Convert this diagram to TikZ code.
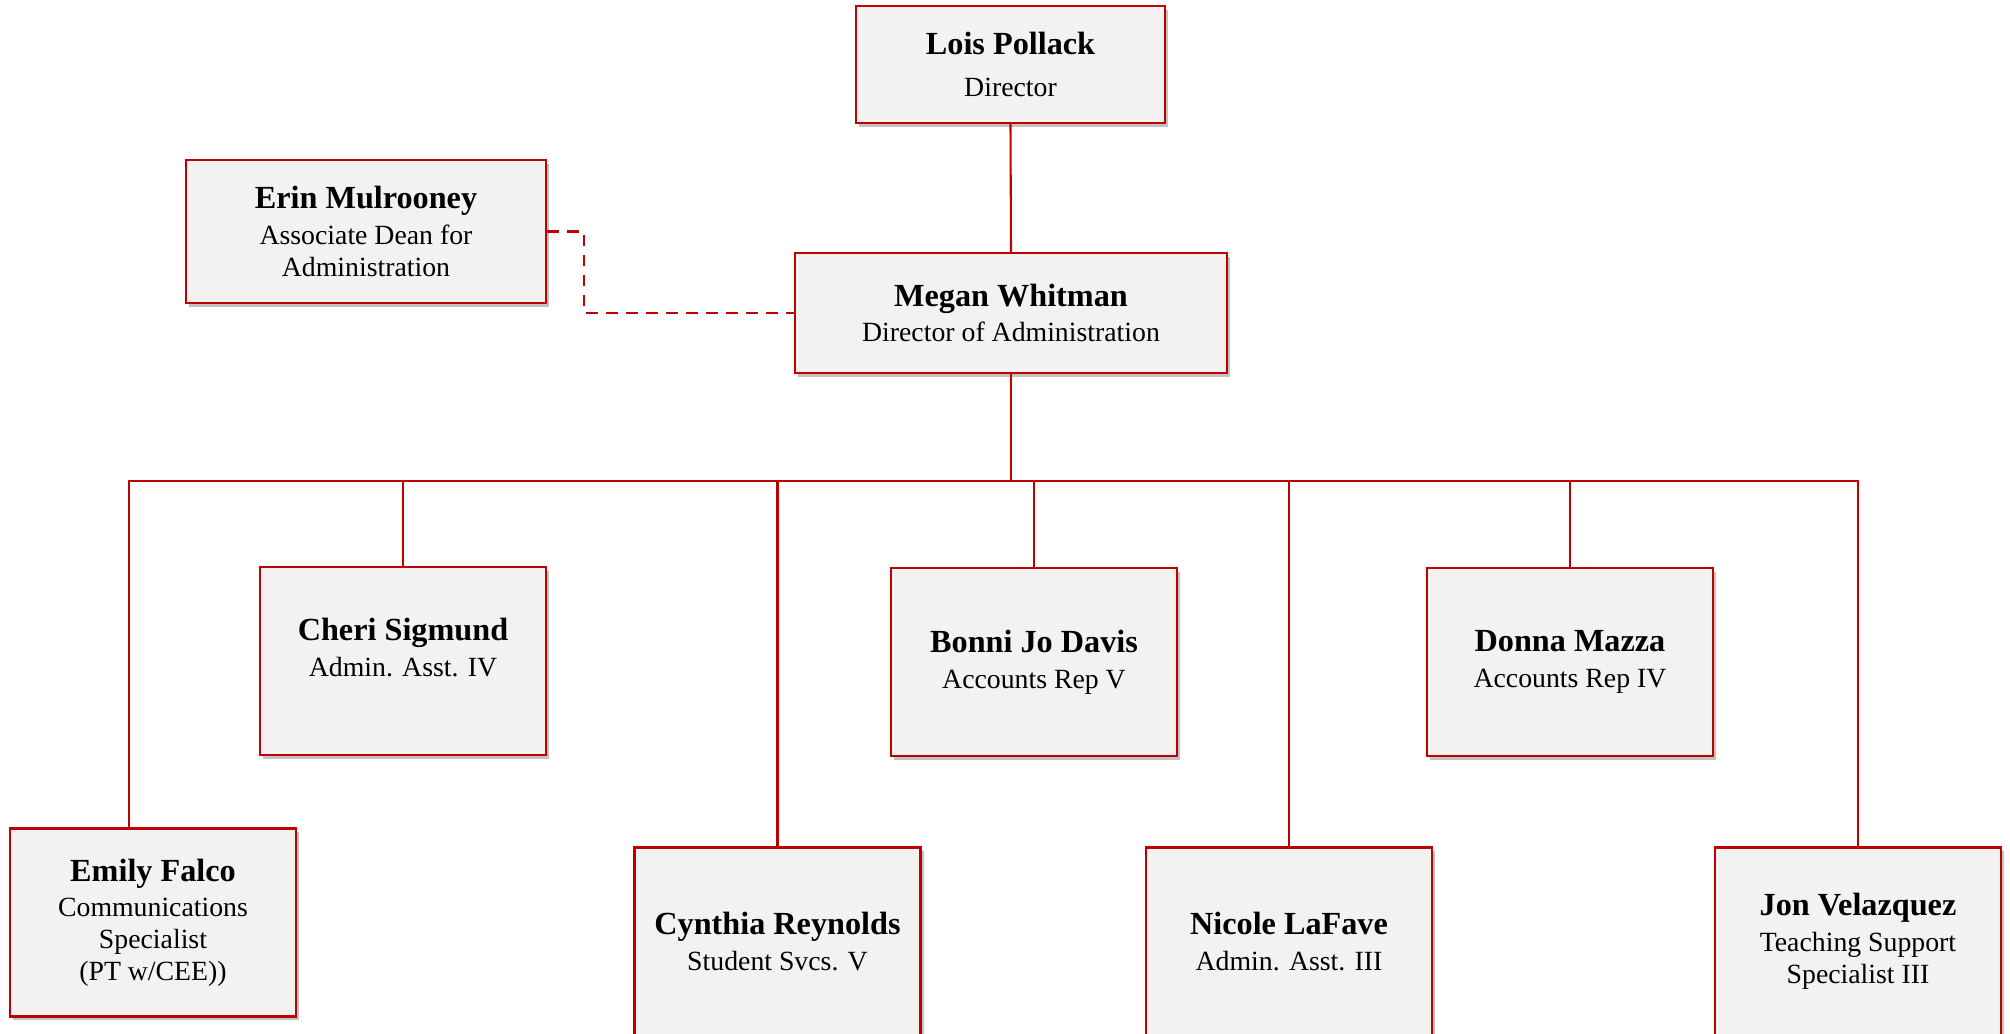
\documentclass[tikz,border=0pt]{standalone}
\usepackage{fontspec}
\setmainfont{Liberation Serif}
\usetikzlibrary{shadows,calc}
\definecolor{boxred}{HTML}{C00000}
\definecolor{boxgray}{HTML}{F2F2F2}
\tikzset{
  orgbox/.style={draw=boxred, fill=boxgray, line width=0.9pt, align=center,
    inner sep=0pt, font=\fontsize{10}{11.4}\selectfont,
    drop shadow={shadow xshift=1.1pt, shadow yshift=-1.3pt, fill=black!40, opacity=0.6}},
  conn/.style={draw=boxred, line width=0.75pt},
  dashconn/.style={draw=boxred, line width=0.75pt, dash pattern=on 4.3pt off 2.9pt},
}
\newcommand{\pname}[1]{{\fontsize{11.6}{12.5}\selectfont\bfseries #1}\\[1.5pt]}
\begin{document}
\begin{tikzpicture}[x=0.36pt,y=-0.36pt]
\useasboundingbox (0,0) rectangle (2010,1034);
\clip (0,0) rectangle (2010,1034);
% boxes
\node[orgbox, minimum width=111.2pt, minimum height=42.1pt] (lois) at (1010.5,64.5)
  {\pname{Lois Pollack}\\[-9pt]Director};
\node[orgbox, minimum width=129.6pt, minimum height=51.5pt] (erin) at (366,231.5)
  {\pname{Erin Mulrooney}Associate Dean for\\Administration};
\node[orgbox, minimum width=155.5pt, minimum height=43.2pt] (megan) at (1011,313)
  {\pname{Megan Whitman}Director of Administration};
\node[orgbox, minimum width=103pt, minimum height=67.7pt] (cheri) at (403,661)
  {\pname{Cheri Sigmund}Admin. Asst. IV\\[-1.5pt]\mbox{}};
\node[orgbox, minimum width=103pt, minimum height=67.7pt] (bonni) at (1034,662)
  {\pname{Bonni Jo Davis}Accounts Rep V};
\node[orgbox, minimum width=103pt, minimum height=67.7pt] (donna) at (1570,662)
  {\pname{Donna Mazza}Accounts Rep IV};
\node[orgbox, minimum width=103pt, minimum height=67.7pt] (emily) at (153,922.5)
  {\pname{Emily Falco}Communications\\Specialist\\(PT w/CEE))};
\node[orgbox, minimum width=103pt, minimum height=67.7pt] (cynthia) at (777.5,941.5)
  {\pname{Cynthia Reynolds}Student Svcs. V};
\node[orgbox, minimum width=103pt, minimum height=67.7pt] (nicole) at (1289,941.5)
  {\pname{Nicole LaFave}Admin. Asst. III};
\node[orgbox, minimum width=103pt, minimum height=67.7pt] (jon) at (1858,941.5)
  {\pname{Jon Velazquez}Teaching Support\\Specialist III};
% connectors
\coordinate (bus) at (1011,481);
\coordinate (emtop) at ([xshift=-8.6pt]emily.north);
\draw[conn] (lois.south) -- (megan.north);
\draw[dashconn] (erin.east) -- ++(37,0) |- (megan.west);
\draw[conn] (megan.south) -- (bus);
\draw[conn] (emtop) -- (emtop |- bus) -- (jon.north |- bus) -- (jon.north);
\draw[conn] (cheri.north) -- (cheri.north |- bus);
\draw[conn] (cynthia.north) -- (cynthia.north |- bus);
\draw[conn] (bonni.north) -- (bonni.north |- bus);
\draw[conn] (nicole.north) -- (nicole.north |- bus);
\draw[conn] (donna.north) -- (donna.north |- bus);
\end{tikzpicture}
\end{document}
